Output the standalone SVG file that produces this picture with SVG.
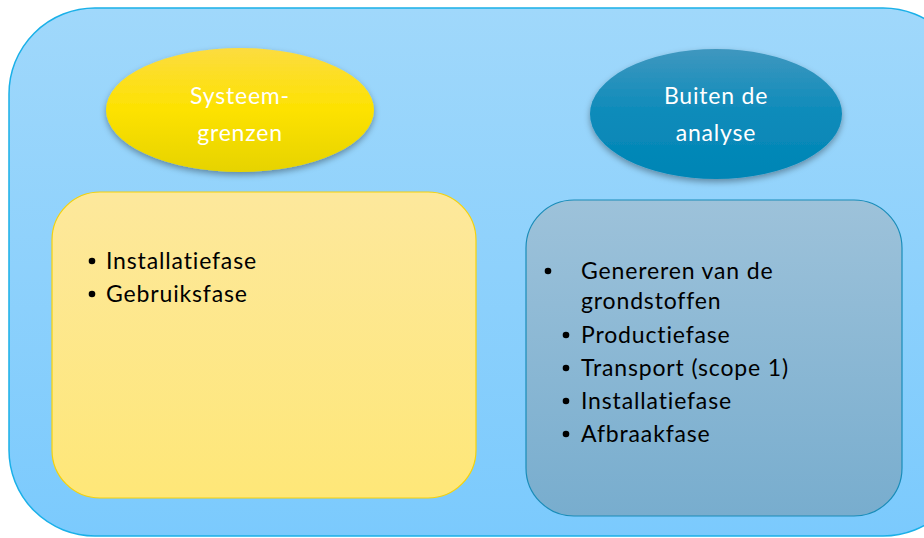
<svg xmlns="http://www.w3.org/2000/svg" width="924" height="538" viewBox="0 0 924 538">
<style>
.w{font-family:Lato,"Open Sans","Liberation Sans",sans-serif;font-size:23px;letter-spacing:0.8px;fill:#ffffff;text-anchor:middle;font-variant-ligatures:none}
.t{font-family:Lato,"Open Sans","Liberation Sans",sans-serif;font-size:23px;letter-spacing:0.85px;fill:#000000;font-variant-ligatures:none}
</style>
<defs>
<linearGradient id="gOuter" x1="0" y1="0" x2="0" y2="1"><stop offset="0" stop-color="#a0d8fb"/><stop offset="1" stop-color="#7bcafd"/></linearGradient>
<linearGradient id="gYel" x1="0" y1="0" x2="0" y2="1"><stop offset="0" stop-color="#fcdc40"/><stop offset="0.5" stop-color="#fde200"/><stop offset="1" stop-color="#e6d300"/></linearGradient>
<linearGradient id="gBlu" x1="0" y1="0" x2="0" y2="1"><stop offset="0" stop-color="#3f97bf"/><stop offset="0.5" stop-color="#0c8bba"/><stop offset="1" stop-color="#0085b5"/></linearGradient>
<linearGradient id="gYRect" x1="0" y1="0" x2="0" y2="1"><stop offset="0" stop-color="#fde89c"/><stop offset="1" stop-color="#fee778"/></linearGradient>
<linearGradient id="gBRect" x1="0" y1="0" x2="0" y2="1"><stop offset="0" stop-color="#9dc2da"/><stop offset="1" stop-color="#78adce"/></linearGradient>
<filter id="sh" x="-20%" y="-20%" width="140%" height="150%"><feDropShadow dx="0" dy="3" stdDeviation="3" flood-color="#000" flood-opacity="0.35"/></filter>
</defs>
<g id="outer"><rect x="9" y="8" width="960" height="528" rx="86" ry="86" fill="url(#gOuter)" stroke="#1ab0e8" stroke-width="1.5"/></g>
<g id="systeemgrenzen">
<ellipse cx="240" cy="110" rx="134" ry="62" fill="url(#gYel)" filter="url(#sh)"/>
<text class="w" x="240" y="104">Systeem-</text>
<text class="w" x="240" y="141">grenzen</text>
</g>
<g id="buiten">
<ellipse cx="716" cy="114" rx="126" ry="65" fill="url(#gBlu)" filter="url(#sh)"/>
<text class="w" x="716" y="104">Buiten de</text>
<text class="w" x="716" y="141">analyse</text>
</g>
<g id="binnen-lijst">
<rect x="52" y="192" width="424" height="306" rx="48" ry="48" fill="url(#gYRect)" stroke="#f5d20a" stroke-width="1.2"/>
<circle cx="92" cy="261" r="3.3" fill="#000"/>
<text class="t" x="106" y="269">Installatiefase</text>
<circle cx="92" cy="294" r="3.3" fill="#000"/>
<text class="t" x="106" y="302">Gebruiksfase</text>
</g>
<g id="buiten-lijst">
<rect x="526" y="200" width="376" height="316" rx="48" ry="48" fill="url(#gBRect)" stroke="#1a8cb8" stroke-width="1.2"/>
<circle cx="548" cy="271" r="3.3" fill="#000"/>
<text class="t" x="581" y="279">Genereren van de</text>
<text class="t" x="581" y="309">grondstoffen</text>
<circle cx="566" cy="335" r="3.3" fill="#000"/>
<text class="t" x="581" y="343">Productiefase</text>
<circle cx="566" cy="368" r="3.3" fill="#000"/>
<text class="t" x="581" y="376">Transport (scope 1)</text>
<circle cx="566" cy="401" r="3.3" fill="#000"/>
<text class="t" x="581" y="409">Installatiefase</text>
<circle cx="566" cy="434" r="3.3" fill="#000"/>
<text class="t" x="581" y="442">Afbraakfase</text>
</g>
<g id="connectors"/>
</svg>
